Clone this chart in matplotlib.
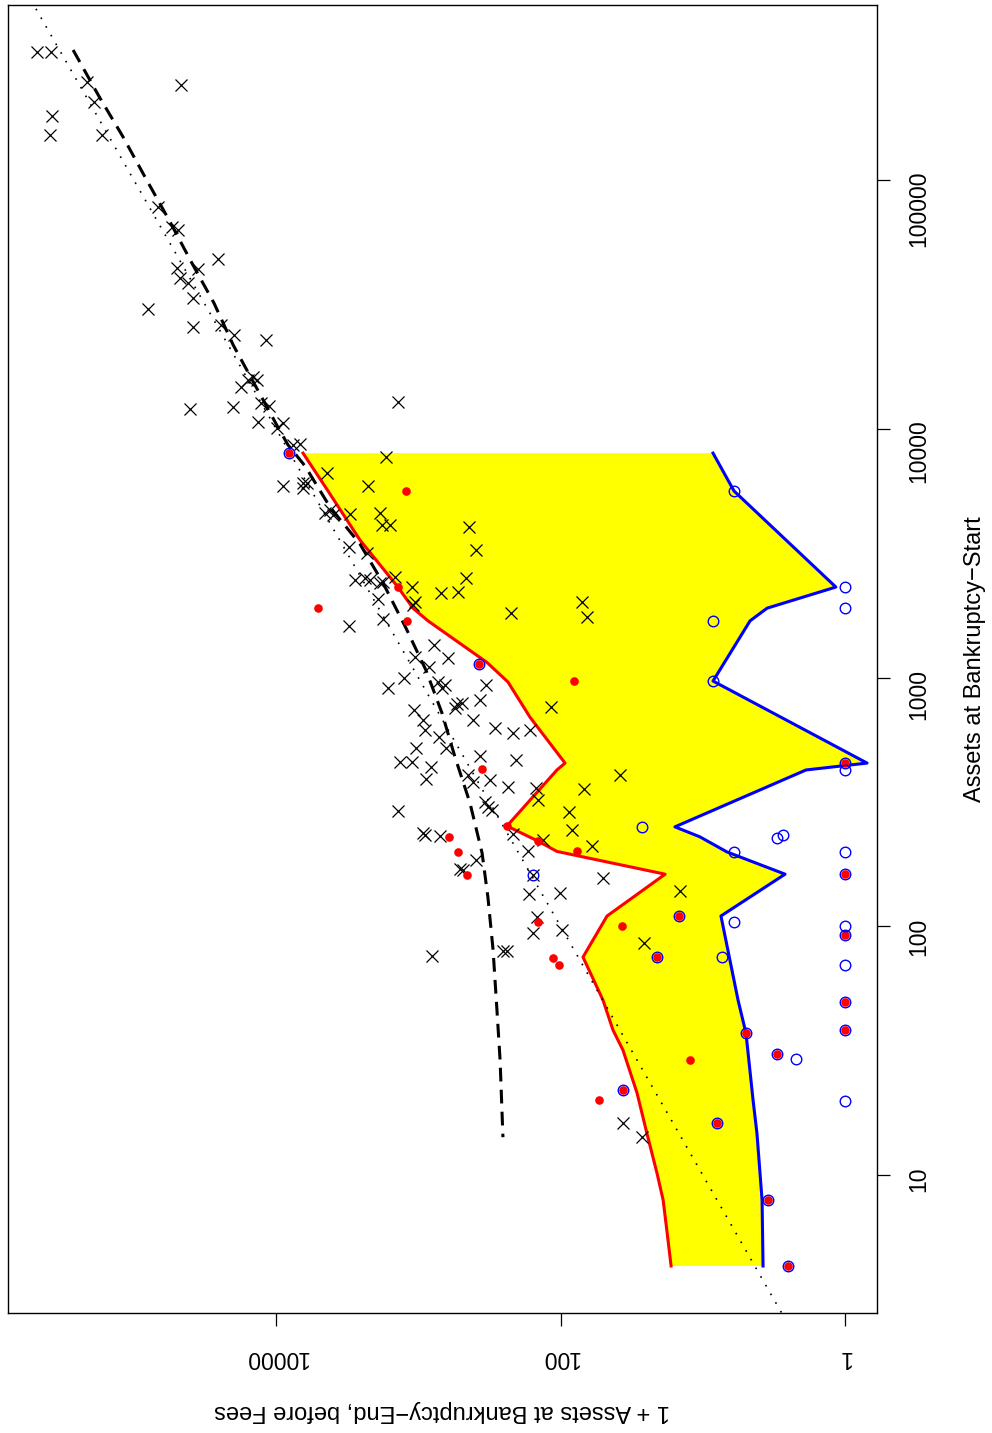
import numpy as np
import matplotlib
matplotlib.use("Agg")
import matplotlib.pyplot as plt

plt.rcParams['font.family'] = ['Liberation Sans', 'DejaVu Sans']

# assets at bankruptcy start / 1 + assets at end (before fees), all cases
cross_start = [327000, 327000, 241000, 248000, 206000, 181000, 152000, 152000, 77800, 64700,
               62900, 48100, 44300, 43900, 40400, 38500, 33600, 30300, 25600, 26100,
               23800, 22800, 16100, 15700, 14700, 15700, 12000, 12200, 12700, 12400,
               12800, 10600, 10100, 10500, 8610, 8690, 5890, 6050, 6050, 5780,
               6640, 7690, 5890, 4580, 4710, 4500, 4540, 4580, 4100, 4100,
               3350, 3160, 4030, 3260, 2470, 2510, 2470, 2400, 2420, 2540,
               2310, 2190, 2210, 2510, 2070, 1950, 2010, 1720, 1610, 1820,
               2010, 1750, 1350, 1210, 1200, 1100, 1000, 908, 959, 933,
               908, 933, 812, 760, 740, 782, 789, 754, 675, 615,
               675, 627, 598, 615, 577, 521, 521, 457, 457, 437,
               483, 466, 391, 406, 380, 387, 363, 360, 322, 316,
               293, 301, 290, 406, 356, 288, 244, 210, 235, 222,
               237, 233, 231, 185, 170, 168, 200, 161, 156, 135,
               136, 139, 109, 94.0, 96.6, 85.7, 75.9, 79.4, 79.4, 16.2, 14.2]
cross_end = [479000, 382000, 46600, 213000, 190000, 376000, 388000, 167000, 67600, 53800,
             48900, 25600, 49700, 35300, 47300, 41600, 38400, 79400, 38400, 24400,
             19700, 11700, 14500, 15700, 17600, 13600, 40300, 20000, 12800, 11200,
             1390, 13400, 9840, 8930, 7600, 6780, 8930, 6460, 6050, 6460,
             4390, 1690, 2250, 4530, 4170, 3970, 3020, 1860, 1800, 1580,
             3070, 2290, 440, 393, 2790, 2370, 2180, 1860, 1770, 1460,
             1110, 692, 526, 461, 1920, 1090, 1050, 1770, 3070, 223,
             70.6, 65.1, 775, 1050, 618, 840, 1260, 1630, 726, 649,
             681, 334, 368, 117, 1070, 534, 493, 552, 926, 897,
             412, 289, 216, 164, 715, 638, 1040, 1340, 1110, 813,
             368, 206, 883, 447, 412, 313, 234, 149, 144, 340,
             303, 324, 1390, 38.2, 68.4, 87.1, 83.0, 60.1, 216, 133,
             926, 897, 703, 393, 509, 485, 169, 156, 50.3, 166,
             101, 14.5, 146, 156, 97.6, 25.9, 800, 254, 238, 36.4, 26.7]

# red points
red_start = [7980, 1130, 110, 75.2, 453, 162, 92.3, 49.5, 38.3, 37.2,
             30.6, 22.0, 16.2, 7.94, 4.31, 1900, 5620, 2310, 1690, 968,
             429, 229, 199, 161, 253, 220, 200, 104, 100, 74.5,
             69.8, 29.0, 20.0]
red_end = [8110, 374, 14.7, 21.0, 1, 1, 1, 1, 1, 4.97,
           3.01, 36.4, 7.94, 3.48, 2.52, 5070, 1220, 1390, 1200, 80.4,
           356, 608, 526, 454, 238, 144, 76.6, 144, 37.0, 113,
           102, 12.3, 53.6]

# blue points
blue_start = [7980, 1130, 110, 75.2, 453, 162, 92.3, 49.5, 38.3, 37.2,
              30.6, 22.0, 16.2, 7.94, 4.31,
              5620, 2310, 1900, 1690, 968, 425, 251, 226, 233, 199,
              199, 161, 104, 100, 75.2, 69.8, 29.2, 19.8]
blue_end = [8110, 374, 14.7, 21.0, 1, 1, 1, 1, 1, 4.97,
            3.01, 36.4, 7.94, 3.48, 2.52,
            6.03, 1, 1, 8.47, 8.47, 1, 26.7, 3.01, 2.73, 6.03,
            1, 156, 6.03, 1, 7.33, 1, 2.21, 1]

# band: upper (red) and lower (blue) curves
upper_start = [7980, 5620, 3570, 2310, 1900, 1690, 1150, 959, 693, 453, 425, 253, 220,
               200, 162, 110, 75.2, 50.5, 38.3, 31.8, 21.4, 14.7, 10.2, 7.94, 5.85, 4.31]
upper_end = [6460, 4310, 2570, 1390, 1090, 855, 329, 234, 164, 93.0, 106, 238, 144,
             106, 18.4, 47.1, 69.5, 50.3, 42.8, 36.4, 29.0, 24.7, 21.0, 19.0, 17.8, 16.7]
lower_start = [7980, 5620, 2310, 1900, 1690, 968, 453, 425, 251, 229, 199, 162, 110,
               50.5, 37.2, 20.0, 14.7, 7.94, 4.31]
lower_end = [8.47, 6.03, 1.16, 3.53, 4.65, 8.47, 0.70, 1.88, 15.7, 10.5, 6.76, 2.64, 7.45,
             5.65, 4.97, 4.43, 4.16, 3.83, 3.77]

# smooth fit (dashed)
fit_start = [333000, 216000, 149000, 101000, 69000, 46300, 32000, 21700, 14700, 10300,
             8610, 7080, 4840, 3440, 2400, 1580, 1070, 719, 479, 313, 197, 131, 80.4,
             44.8, 29.0, 14.2]
fit_end = [267000, 175000, 119000, 82000, 56500, 39000, 27300, 20000, 13800, 9840,
           8240, 6250, 4170, 2570, 1770, 1220, 883, 681, 552, 433, 356, 324, 298,
           279, 266, 254]

fig = plt.figure(figsize=(9.92, 14.33), dpi=100)
ax = fig.add_axes([8/992, 1 - 1313/1433, 869/992, 1308/1433])
ax.set_xscale('log')
ax.set_yscale('log')

ax.fill(np.r_[upper_end, lower_end[::-1]], np.r_[upper_start, lower_start[::-1]],
        color='#ffff00', lw=0, zorder=1)
ax.plot(upper_end, upper_start, color='#ff0000', lw=2.2, zorder=2)
ax.plot(lower_end, lower_start, color='#0000ff', lw=2.2, zorder=2)

ax.plot([0.3, 2e6], [0.3, 2e6], color='black', lw=1.2, ls=(0, (1, 5)), zorder=2)
ax.plot(fit_end, fit_start, color='black', lw=2.2, ls=(0, (4.5, 2.7)), zorder=3)

ax.plot(cross_end, cross_start, ls='none', marker='x', ms=8.8, mew=0.9, color='black', zorder=4)
ax.plot(red_end, red_start, ls='none', marker='o', ms=6.2, mew=0, color='#ff0000', zorder=5)
ax.plot(blue_end, blue_start, ls='none', marker='o', ms=7.6, mew=1.0, mfc='none',
        mec='#0000ff', zorder=6)

ax.set_xlim(7.66e5, 0.596)
ax.set_ylim(2.79, 5.05e5)

ax.xaxis.tick_bottom()
ax.yaxis.tick_right()
ax.minorticks_off()
ax.set_xticks([1, 100, 10000])
ax.set_xticklabels(['1', '100', '10000'])
ax.set_yticks([10, 100, 1000, 10000, 100000])
ax.set_yticklabels(['10', '100', '1000', '10000', '100000'])
ax.tick_params(axis='x', labelrotation=180, length=9, width=0.9, pad=15, labelsize=16.5)
ax.tick_params(axis='y', labelrotation=90, length=9, width=0.9, pad=13, labelsize=16.5)
for s in ax.spines.values():
    s.set_linewidth(1.0)

ax.set_xlabel('1 + Assets at Bankruptcy\u2212End, before Fees', rotation=180,
              fontsize=17, labelpad=22)
ax.yaxis.set_label_position('right')
ax.set_ylabel('Assets at Bankruptcy\u2212Start', rotation=90, fontsize=17, labelpad=24)

fig.savefig('out.png', dpi=100)
